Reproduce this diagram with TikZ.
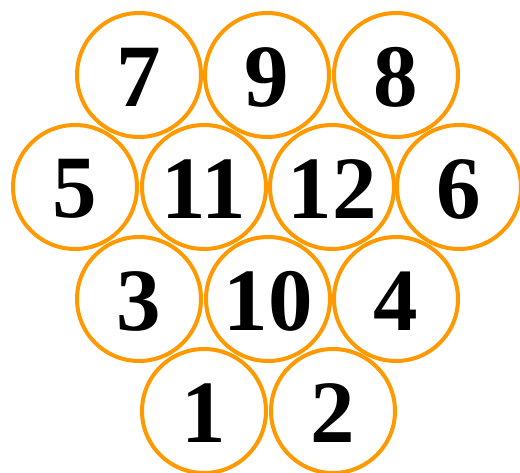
\documentclass[tikz,border=0pt]{standalone}
\usepackage{fontspec}
\setmainfont{Liberation Serif}
\definecolor{ring}{RGB}{255,153,0}
\begin{document}
\begin{tikzpicture}[x=1pt,y=-1pt,
  ball/.style={circle,draw=ring,line width=4pt,minimum size=124pt,inner sep=0pt},
  num/.style={font=\fontsize{89}{89}\selectfont\bfseries,inner sep=0pt}]
\useasboundingbox (0,0) rectangle (520,473);
\foreach \n/\x/\y in {7/139/75,9/267/75,8/396/75,
                      5/75/187,11/204/187,12/332/187,6/459/187,
                      3/139/299,10/268/299,4/396/299,
                      1/204/411,2/333/411}{
  \node[ball] (c\n) at (\x,\y) {};
  \node[num] (t\n) at (\x,\y+2) {\n};
}
\end{tikzpicture}
\end{document}
